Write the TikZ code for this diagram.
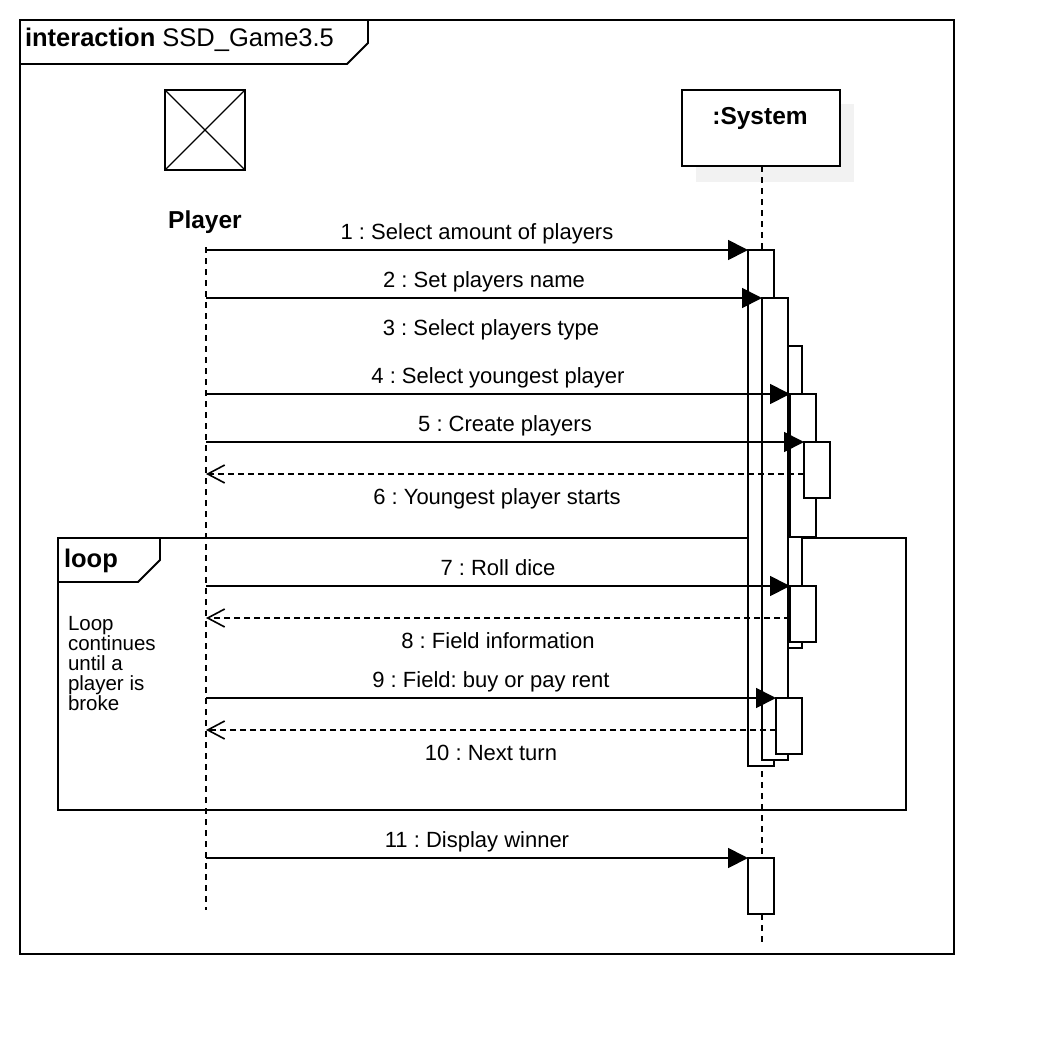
\documentclass[tikz,border=0pt]{standalone}
\usepackage{fontspec}
\setmainfont{Liberation Sans}
\usetikzlibrary{arrows.meta}
\frenchspacing
\begin{document}
\begin{tikzpicture}[x=1pt,y=-1pt,
  every node/.style={inner sep=0pt, outer sep=0pt},
  bar/.style={draw, fill=white, line width=1.8pt, minimum width=26pt, anchor=north west},
  life/.style={line width=1.8pt, dash pattern=on 6pt off 5pt},
  msg/.style={line width=1.8pt, -{Triangle[length=20pt,width=20pt]}},
  ret/.style={line width=1.6pt, dash pattern=on 6pt off 4pt, -{Straight Barb[length=17pt,width=18pt,line width=1.6pt]}},
  lbl/.style={midway, anchor=base, yshift=11pt, font=\fontsize{22}{26}\selectfont},
  lblb/.style={midway, anchor=base, yshift=-30pt, font=\fontsize{22}{26}\selectfont},
  boldlbl/.style={font=\fontsize{24.5}{29}\selectfont\bfseries}
]
\useasboundingbox (0,0) rectangle (1044,1044);
\fill[white] (0,0) rectangle (1044,1044);

% outer frame
\node[draw, line width=1.8pt, minimum width=934pt, minimum height=934pt, anchor=north west] (frame) at (20,20) {};
\draw[line width=1.8pt] (20,64) -- (347,64) -- (368,43) -- (368,20);
\node[anchor=base west, font=\fontsize{25.5}{30}\selectfont] (title) at (25,46) {\bfseries interaction\mdseries\ SSD\_Game3.5};

% loop frame
\node[draw, line width=1.8pt, minimum width=848pt, minimum height=272pt, anchor=north west] (loop) at (58,538) {};
\draw[line width=1.8pt] (58,582) -- (138,582) -- (160,560) -- (160,538);
\node[anchor=base west, font=\fontsize{25.5}{30}\selectfont\bfseries] (looplbl) at (64,567) {loop};
\node[anchor=north west, align=left, font=\fontsize{20.5}{20}\selectfont] (note) at (68,616) {Loop\\continues\\until a\\player is\\broke};

% actor Player
\node[draw, line width=1.8pt, minimum width=80pt, minimum height=80pt] (actor) at (205,130) {};
\draw[line width=1.2pt] (actor.north west) -- (actor.south east) (actor.north east) -- (actor.south west);
\node[anchor=base, boldlbl] (plabel) at (205,228) {Player};
\coordinate (ptop) at (206,247);
\coordinate (pbot) at (206,910);
\draw[life] (ptop) -- (pbot);

% System
\fill[black!5] (696,104) rectangle (854,182);
\node[draw, fill=white, line width=1.8pt, minimum width=158pt, minimum height=76pt, anchor=north west] (sys) at (682,90) {};
\node[anchor=base, boldlbl] (syslbl) at (760,124) {:System};
\coordinate (stop) at (762,166);
\coordinate (sbot) at (762,942);
\draw[life] (stop) -- (sbot);

% activation bars
\node[bar, minimum height=516pt] (barA) at (748,250) {};
\node[bar, minimum height=302pt] (barC) at (776,346) {};
\node[bar, minimum height=462pt] (barB) at (762,298) {};
\node[bar, minimum height=143pt] (barD) at (790,394) {};
\node[bar, minimum height=56pt] (barE) at (804,442) {};
\node[bar, minimum height=56pt] (barF) at (790,586) {};
\node[bar, minimum height=56pt] (barG) at (776,698) {};
\node[bar, minimum height=56pt] (barH) at (748,858) {};

% player-side coordinates
\coordinate (m1) at (206,250);
\coordinate (m2) at (206,298);
\coordinate (m4) at (206,394);
\coordinate (m5) at (206,442);
\coordinate (r6) at (206,474);
\coordinate (m7) at (206,586);
\coordinate (r8) at (206,618);
\coordinate (m9) at (206,698);
\coordinate (r10) at (206,730);
\coordinate (m11) at (206,858);

% messages
\draw[msg] (m1) -- (barA.north west) node[lbl] {1 : Select amount of players};
\draw[msg] (m2) -- (barB.north west) node[lbl] {2 : Set players name};
\node[anchor=base, font=\fontsize{22}{26}\selectfont] (l3) at (491,335) {3 : Select players type};
\draw[msg] (m4) -- (barD.north west) node[lbl] {4 : Select youngest player};
\draw[msg] (m5) -- (barE.north west) node[lbl] {5 : Create players};
\draw[ret] (barE.west |- r6) -- (r6) node[lblb, xshift=-8pt] {6 : Youngest player starts};
\draw[msg] (m7) -- (barF.north west) node[lbl] {7 : Roll dice};
\draw[ret] (barF.west |- r8) -- (r8) node[lblb] {8 : Field information};
\draw[msg] (m9) -- (barG.north west) node[lbl] {9 : Field: buy or pay rent};
\draw[ret] (barG.west |- r10) -- (r10) node[lblb] {10 : Next turn};
\draw[msg] (m11) -- (barH.north west) node[lbl] {11 : Display winner};
\end{tikzpicture}
\end{document}
